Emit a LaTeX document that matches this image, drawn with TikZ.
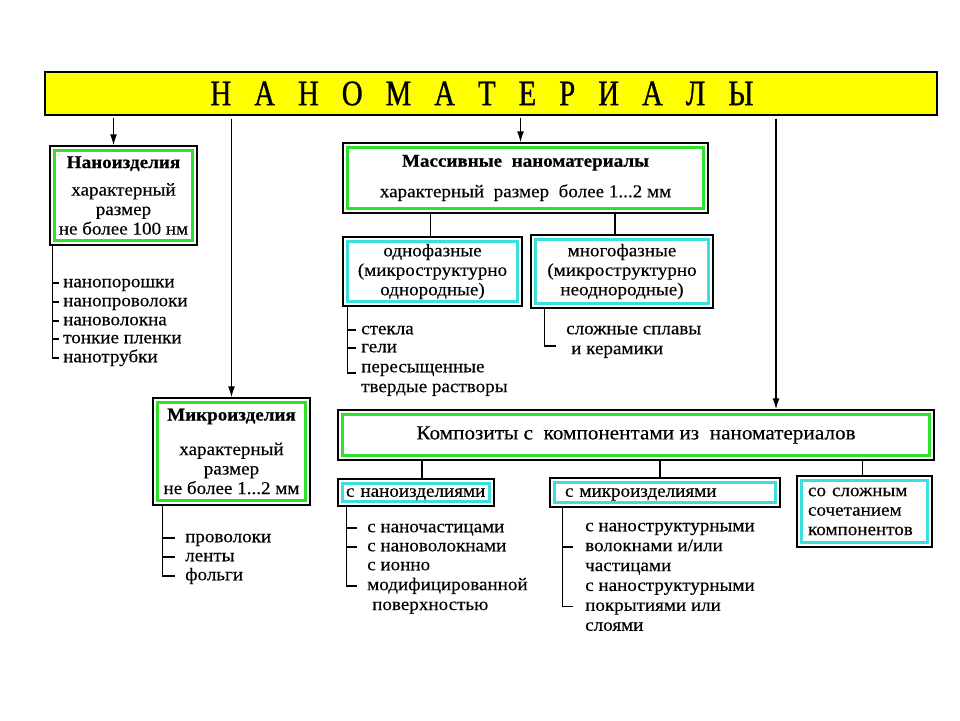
\documentclass[tikz,border=0pt]{standalone}
\usepackage{fontspec}
\setmainfont{Liberation Serif}[FakeStretch=1.06, UprightFeatures={FakeBold=0.25}, BoldFeatures={FakeBold=0.5}]
\newfontfamily\headfont{Liberation Serif}[FakeStretch=0.8, FakeBold=0.8]
\usetikzlibrary{arrows.meta,positioning,shadows}
\definecolor{HeadYellow}{RGB}{255,255,0}
\definecolor{FrameGreen}{RGB}{45,225,45}
\definecolor{FrameCyan}{RGB}{60,222,222}
\newcommand{\lettergap}{\hspace{23pt}}
\tikzset{
  boxshadow/.style={drop shadow={shadow xshift=1.3pt, shadow yshift=-1.3pt, fill=black, opacity=1}},
  framed/.style={draw=black, line width=1.4pt, fill=white, inner sep=0pt, align=center, boxshadow,
    path picture={\draw[#1, line width=3pt]
      ([shift={(4.5pt,-4.5pt)}]path picture bounding box.north west) rectangle
      ([shift={(-4.5pt,4.5pt)}]path picture bounding box.south east);}},
  greenbox/.style={framed=FrameGreen},
  cyanbox/.style={framed=FrameCyan},
  oneline/.style={anchor=west, inner sep=0pt, text height=12pt, text depth=3.5pt},
  link/.style={line width=1.4pt},
  arr/.style={line width=1.4pt, -{Latex[length=11pt,width=7pt]}}
}
\begin{document}
\begin{tikzpicture}[x=1pt, y=-1pt, every node/.style={font=\fontsize{18}{19.5}\selectfont}]
  \useasboundingbox (0,0) rectangle (960,720);

  % header
  \node[draw=black, line width=1.4pt, fill=HeadYellow, boxshadow, minimum width=892pt, minimum height=43pt,
        font=\headfont\fontsize{36}{36}\selectfont] (head) at (491,93.5)
    {Н\lettergap А\lettergap Н\lettergap О\lettergap М\lettergap А\lettergap Т\lettergap Е\lettergap Р\lettergap И\lettergap А\lettergap Л\lettergap Ы\kern18pt\mbox{}};

  % main boxes
  \node[greenbox, minimum width=147pt, minimum height=99pt] (nano) at (123.5,195.5)
    {\textbf{Наноизделия}\\[8pt] характерный\\ размер\\ не более 100 нм};
  \node[greenbox, minimum width=365pt, minimum height=70pt] (mass) at (525.5,178)
    {\textbf{Массивные\ \ наноматериалы}\\[11pt] характерный\ \ размер\ \ более 1...2 мм};
  \node[cyanbox, minimum width=179pt, minimum height=69pt] (odno) at (432.5,271.5)
    {однофазные\\(микроструктурно\\однородные)};
  \node[cyanbox, minimum width=182pt, minimum height=73pt] (mnogo) at (622,271.5)
    {многофазные\\(микроструктурно\\неоднородные)};
  \node[greenbox, minimum width=157pt, minimum height=107pt] (micro) at (231.5,451.5)
    {\textbf{Микроизделия}\\[15pt] характерный\\ размер\\ не более 1...2 мм};
  \node[greenbox, minimum width=596pt, minimum height=50pt, font=\fontsize{20}{22}\selectfont] (comp) at (636,435)
    {Композиты с\ \ компонентами из\ \ наноматериалов};
  \node[cyanbox, minimum width=156pt, minimum height=27pt, text width=140pt, align=left,
        text height=12pt, text depth=3.5pt] (wnano) at (416,492.5)
    {с наноизделиями};
  \node[cyanbox, minimum width=230pt, minimum height=29pt, text width=200pt, align=left,
        text height=12pt, text depth=3.5pt] (wmicro) at (665,492.5)
    {с микроизделиями};
  \node[cyanbox, minimum width=135pt, minimum height=71pt, text width=113pt, align=left] (wmix) at (864.5,511.5)
    {со сложным\\сочетанием\\компонентов};

  % arrows from the header
  \draw[arr] ([xshift=-10pt,yshift=-2pt]nano.north |- head.south) -- ([xshift=-10pt]nano.north);
  \draw[arr] ([yshift=-3pt]micro.north |- head.south) -- (micro.north);
  \draw[arr] ([xshift=-5pt,yshift=-2pt]mass.north |- head.south) -- ([xshift=-5pt]mass.north);
  \draw[arr] ([xshift=140pt,yshift=-3pt]comp.north |- head.south) -- ([xshift=140pt]comp.north);

  % links to the sub-boxes
  \draw[link] ([xshift=-2pt]odno.north) -- ([xshift=-2pt]odno.north |- mass.south);
  \draw[link] ([xshift=-7pt]mnogo.north) -- ([xshift=-7pt]mnogo.north |- mass.south);
  \draw[link] ([xshift=6pt]wnano.north) -- ([xshift=6pt]wnano.north |- comp.south);
  \draw[link] ([xshift=-5pt]wmicro.north) -- ([xshift=-5pt]wmicro.north |- comp.south);
  \draw[link] ([xshift=-2pt]wmix.north) -- ([xshift=-2pt]wmix.north |- comp.south);

  % list of nano products
  \node[oneline] (n1) at (63,283) {нанопорошки};
  \node[oneline] (n2) at (63,302) {нанопроволоки};
  \node[oneline] (n3) at (63,321) {нановолокна};
  \node[oneline] (n4) at (63,339) {тонкие пленки};
  \node[oneline] (n5) at (63,358) {нанотрубки};
  \coordinate (nsp) at ([xshift=3pt]nano.south west);
  \draw[link] (nsp) |- ([xshift=-4pt]n5.west);
  \draw[link] (nsp |- n1.west) -- ([xshift=-4pt]n1.west);
  \draw[link] (nsp |- n2.west) -- ([xshift=-4pt]n2.west);
  \draw[link] (nsp |- n3.west) -- ([xshift=-4pt]n3.west);
  \draw[link] (nsp |- n4.west) -- ([xshift=-4pt]n4.west);

  % list of single-phase materials
  \node[oneline] (o1) at (361,330) {стекла};
  \node[oneline] (o2) at (361,348) {гели};
  \node[oneline] (o3) at (361,368) {пересыщенные};
  \node[oneline, below=4pt of o3.south west, anchor=north west] (o4) {твердые растворы};
  \coordinate (osp) at ([xshift=5pt]odno.south west);
  \draw[link] (osp) |- ([xshift=-5pt,yshift=-5pt]o3.west);
  \draw[link] (osp |- o1.west) -- ([xshift=-5pt]o1.west);
  \draw[link] (osp |- o2.west) -- ([xshift=-5pt]o2.west);

  % list of multi-phase materials
  \node[oneline] (m1) at (566,330) {сложные сплавы};
  \node[oneline, below=4pt of m1.south west, anchor=north west, xshift=5pt] (m2) {и керамики};
  \coordinate (msp) at ([xshift=14pt]mnogo.south west);
  \draw[link] (msp) |- ([xshift=-15pt,yshift=4pt]m2.west);

  % list of micro products
  \node[oneline] (p1) at (185,538) {проволоки};
  \node[oneline] (p2) at (185,557) {ленты};
  \node[oneline] (p3) at (185,576) {фольги};
  \coordinate (psp) at ([xshift=10pt]micro.south west);
  \draw[link] (psp) |- ([xshift=-10pt]p3.west);
  \draw[link] (psp |- p1.west) -- ([xshift=-10pt]p1.west);
  \draw[link] (psp |- p2.west) -- ([xshift=-10pt]p2.west);

  % composites with nano products
  \node[oneline] (c1) at (367,528) {с наночастицами};
  \node[oneline] (c2) at (367,547) {с нановолокнами};
  \node[oneline] (c3) at (367,566) {с ионно};
  \node[oneline, below=4pt of c3.south west, anchor=north west] (c4) {модифицированной};
  \node[oneline, below=4pt of c4.south west, anchor=north west, xshift=5pt] (c5) {поверхностью};
  \coordinate (csp) at ([xshift=9pt]wnano.south west);
  \draw[link] (csp) |- ([xshift=-10pt]c4.west);
  \draw[link] (csp |- c1.west) -- ([xshift=-10pt]c1.west);
  \draw[link] (csp |- c2.west) -- ([xshift=-10pt]c2.west);

  % composites with micro products
  \node[oneline] (d1) at (585,527) {с наноструктурными};
  \node[oneline, below=4pt of d1.south west, anchor=north west] (d2) {волокнами и/или};
  \node[oneline, below=4pt of d2.south west, anchor=north west] (d3) {частицами};
  \node[oneline, below=4pt of d3.south west, anchor=north west] (d4) {с наноструктурными};
  \node[oneline, below=4pt of d4.south west, anchor=north west] (d5) {покрытиями или};
  \node[oneline, below=4pt of d5.south west, anchor=north west] (d6) {слоями};
  \coordinate (dsp) at ([xshift=13pt]wmicro.south west);
  \draw[link] (dsp) |- ([xshift=-12pt]d5.west);
  \draw[link] (dsp |- d2.west) -- ([xshift=-12pt]d2.west);
\end{tikzpicture}
\end{document}
